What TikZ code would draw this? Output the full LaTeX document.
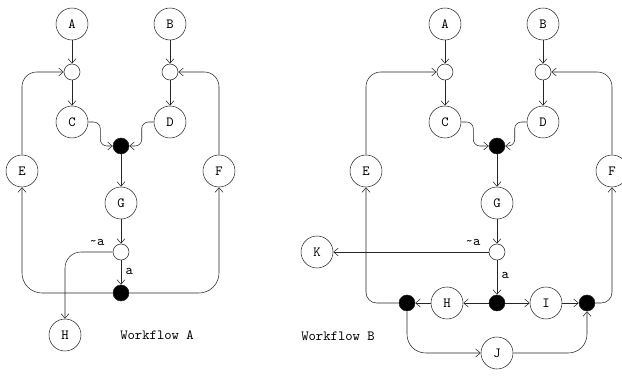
\documentclass[tikz,border=0pt]{standalone}
\usepackage{tikz}
\usetikzlibrary{arrows.meta}
\tikzstyle{task} = [circle, draw, minimum size=24pt, inner sep=0pt]
\tikzstyle{gate} = [circle, draw, minimum size=12pt, inner sep=0pt]
\tikzstyle{sync} = [circle, draw, fill=black, minimum size=12pt, inner sep=0pt]
\tikzstyle{flow} = [-{Straight Barb[length=3.5pt,width=6pt]}, rounded corners=5pt]

\begin{document}
\begin{tikzpicture}[x=0.75pt, y=-0.75pt, font=\ttfamily\fontsize{10.5}{12}\selectfont, draw=black!85]
\useasboundingbox (0,0) rectangle (622,384);

% Workflow A
\node [task] (a) at (72,24) {A};
\node [task] (b) at (170,24) {B};
\node [gate] (a1) at (72,72) {};
\node [gate] (b1) at (170,72) {};
\node [task] (c) at (72,122) {C};
\node [task] (d) at (170,122) {D};
\node [sync] (s1) at (121,146) {};
\node [task] (e) at (22,171) {E};
\node [task] (f) at (219,171) {F};
\node [task] (g) at (121,203) {G};
\node [gate] (x) at (121,252) {};
\node [sync] (s2) at (121,293) {};
\node [task] (h) at (65,335) {H};
\node (wa) at (157,335) {Workflow A};

\draw [flow] (a) to (a1);
\draw [flow] (b) to (b1);
\draw [flow] (a1) to (c);
\draw [flow] (b1) to (d);
\draw [flow] (c.east) -- ++(12,0) |- (s1.west);
\draw [flow] (d.west) -- ++(-12,0) |- (s1.east);
\draw [flow] (s1) to (g);
\draw [flow] (g) to (x);
\draw [flow] (x) -- node [right, pos=0.45] {a} (s2);
\draw [flow, rounded corners=12pt] (x.west) -| (h.north);
\node at (97,242) {\textasciitilde a};
\draw [flow, rounded corners=15pt] (s2.west) -| (e.south);
\draw [flow, rounded corners=15pt] (s2.east) -| (f.south);
\draw [flow, rounded corners=11pt] (e.north) |- (a1.west);
\draw [flow, rounded corners=11pt] (f.north) |- (b1.east);

% Workflow B
\node [task] (a') at (445,24) {A};
\node [task] (b') at (543,24) {B};
\node [gate] (a1') at (445,72) {};
\node [gate] (b1') at (543,72) {};
\node [task] (c') at (445,122) {C};
\node [task] (d') at (543,122) {D};
\node [sync] (s1') at (497,146) {};
\node [task] (e') at (366,171) {E};
\node [task] (f') at (612,171) {F};
\node [task] (g') at (497,203) {G};
\node [gate] (x') at (497,252) {};
\node [task] (k') at (317,252) {K};
\node [sync] (s2') at (497,303) {};
\node [task] (h') at (447,303) {H};
\node [task] (i') at (546,303) {I};
\node [sync] (s3') at (407,303) {};
\node [sync] (s4') at (587,303) {};
\node [task] (j') at (497,353) {J};
\node (wb) at (338,336) {Workflow B};

\draw [flow] (a') to (a1');
\draw [flow] (b') to (b1');
\draw [flow] (a1') to (c');
\draw [flow] (b1') to (d');
\draw [flow] (c'.east) -- ++(12,0) |- (s1'.west);
\draw [flow] (d'.west) -- ++(-12,0) |- (s1'.east);
\draw [flow] (s1') to (g');
\draw [flow] (g') to (x');
\draw [flow] (x') to (k');
\node at (473,242) {\textasciitilde a};
\draw [flow] (x') -- node [right, pos=0.45] {a} (s2');
\draw [flow] (s2') to (h');
\draw [flow] (s2') to (i');
\draw [flow] (h') to (s3');
\draw [flow] (i') to (s4');
\draw [flow, rounded corners=8pt] (s3'.west) -| (e'.south);
\draw [flow, rounded corners=8pt] (s4'.east) -| (f'.south);
\draw [flow, rounded corners=11pt] (e'.north) |- (a1'.west);
\draw [flow, rounded corners=11pt] (f'.north) |- (b1'.east);
\draw [flow, rounded corners=14pt] (s3'.south) |- (j'.west);
\draw [flow, rounded corners=14pt] (j'.east) -| (s4'.south);

\end{tikzpicture}
\end{document}
